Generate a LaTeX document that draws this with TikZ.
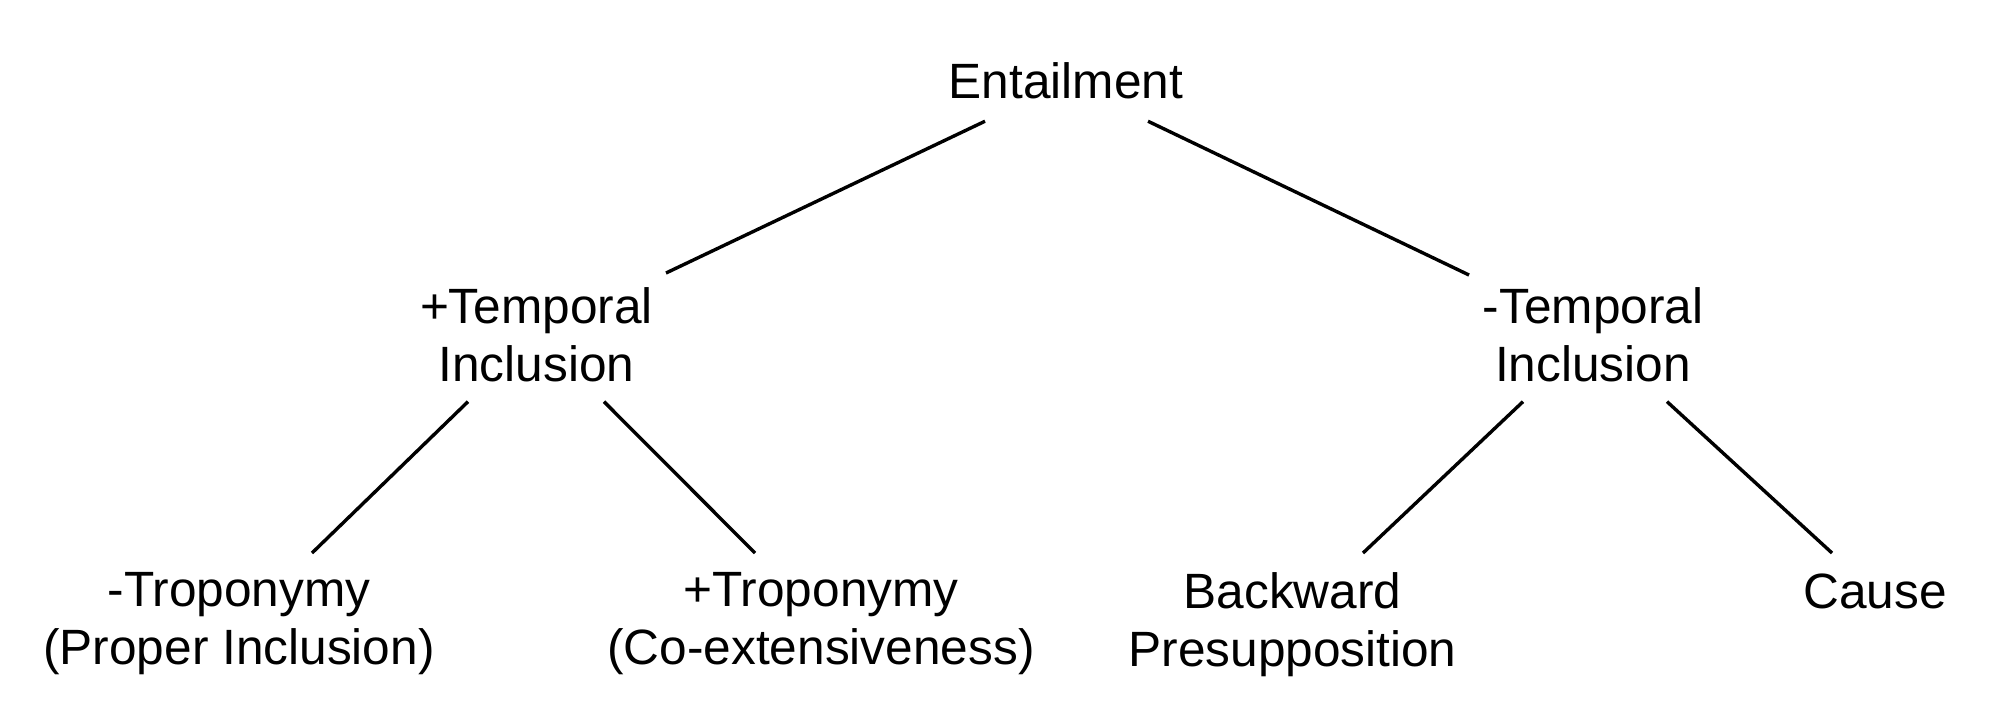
\documentclass[tikz,border=0pt]{standalone}
\usepackage{fontspec}
\setmainfont{Liberation Sans}
\usetikzlibrary{calc}

\tikzset{
    term/.style={anchor=north, inner sep=0pt, align=center,
        font=\fontsize{24.8pt}{29.2pt}\selectfont},
    branch/.style={line width=1.7pt}
}

\begin{document}
\begin{tikzpicture}[x=0.5pt, y=-0.5pt]
    \useasboundingbox (0, 0) rectangle (1995, 725);

    % 根节点
    \node[term] (ent) at (1066, 62) {Entailment};

    % 第二层
    \node[term] (pti) at (536.5, 287) {+Temporal\\Inclusion};
    \node[term] (nti) at (1593, 287) {-Temporal\\Inclusion};

    % 第三层
    \node[term] (ntr) at (239, 572) {-Troponymy\\(Proper Inclusion)};
    \node[term] (ptr) at (821, 572) {+Troponymy\\(Co-extensiveness)};
    \node[term] (back) at (1292.5, 572) {Backward\\Presupposition};
    \node[term] (cause) at (1875, 573) {Cause};

    % 连线
    \draw[branch] ([shift={(-81, 22)}]ent.south) -- ([shift={(129.5, -14)}]pti.north);
    \draw[branch] ([shift={(82, 22)}]ent.south) -- ([shift={(-124, -12)}]nti.north);
    \draw[branch] ([shift={(-68.5, 19)}]pti.south) -- ([shift={(73, -19)}]ntr.north);
    \draw[branch] ([shift={(67.5, 19)}]pti.south) -- ([shift={(-66, -19)}]ptr.north);
    \draw[branch] ([shift={(-70, 19)}]nti.south) -- ([shift={(70.5, -19)}]back.north);
    \draw[branch] ([shift={(74, 19)}]nti.south) -- ([shift={(-43, -20)}]cause.north);
\end{tikzpicture}
\end{document}
